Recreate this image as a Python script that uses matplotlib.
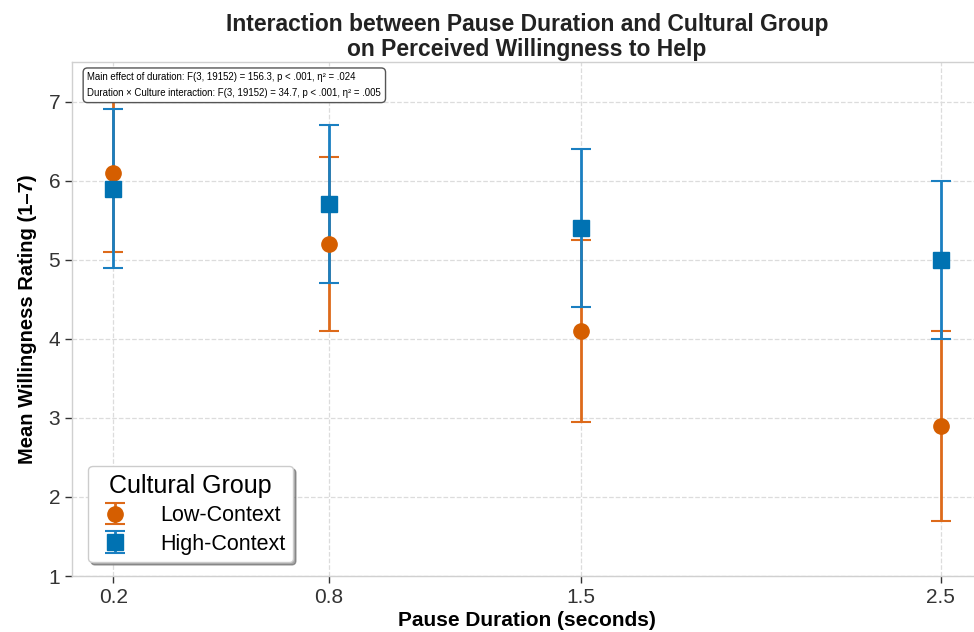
import matplotlib
matplotlib.use("Agg")
import matplotlib.pyplot as plt

durations = [0.2, 0.8, 1.5, 2.5]
duration_labels = ["0.2", "0.8", "1.5", "2.5"]
low_means = [6.1, 5.2, 4.1, 2.9]
low_err = [1.0, 1.1, 1.15, 1.2]
high_means = [5.9, 5.7, 5.4, 5.0]
high_err = [1.0, 1.0, 1.0, 1.0]
groups = ["Low-Context", "High-Context"]
annot_text = ("Main effect of duration: F(3, 19152) = 156.3, p < .001, \u03b7\u00b2 = .024\n"
              "Duration \u00d7 Culture interaction: F(3, 19152) = 34.7, p < .001, \u03b7\u00b2 = .005")

plt.rcParams['font.family'] = ['Liberation Sans', 'DejaVu Sans']

fig = plt.figure(figsize=(9.74, 6.32), dpi=100)
ax = fig.add_axes([72/974, 56/632, 910/974, 514/632])

orange = '#D55E00'
blue = '#0072B2'

ax.errorbar(durations, low_means, yerr=low_err, fmt='o', color=orange,
            ecolor='#dd6a1a', elinewidth=2, capsize=7, capthick=1.5,
            markersize=11, label=groups[0], zorder=3)
ax.errorbar(durations, high_means, yerr=high_err, fmt='s', color=blue,
            ecolor='#1a7fc1', elinewidth=2, capsize=7, capthick=1.5,
            markersize=11, label=groups[1], zorder=3)

ax.set_ylim(1, 7.5)
ax.set_xlim(0.085, 2.615)
ax.set_xticks(durations)
ax.set_xticklabels(duration_labels)
ax.set_yticks([1, 2, 3, 4, 5, 6, 7])

ax.grid(True, linestyle='--', color='#dcdcdc', linewidth=0.9)
ax.set_axisbelow(True)
for s in ax.spines.values():
    s.set_color('#d0d0d0')
    s.set_linewidth(1.0)
ax.tick_params(axis='both', direction='out', length=5, width=1, color='#333333',
               labelsize=15, labelcolor='#333333')

ax.set_title("Interaction between Pause Duration and Cultural Group\non Perceived Willingness to Help",
             fontsize=16.5, fontweight='bold', color='#222222', pad=4, linespacing=1.12)
ax.set_xlabel("Pause Duration (seconds)", fontsize=15, fontweight='bold', labelpad=3)
ax.set_ylabel("Mean Willingness Rating (1\u20137)", fontsize=14.5, fontweight='bold', labelpad=8)

ax.text(0.017, 0.980, annot_text, transform=ax.transAxes, fontsize=6.9,
        va='top', ha='left', zorder=5, linespacing=1.75,
        bbox=dict(boxstyle='round,pad=0.45', facecolor='white', edgecolor='#555555', linewidth=1))

leg = ax.legend(title="Cultural Group", loc='lower left', bbox_to_anchor=(0.006, 0.006),
                fontsize=15.5, title_fontsize=18, frameon=True, shadow=True, fancybox=True,
                borderpad=0.35, handletextpad=1.2, labelspacing=0.35, handlelength=1.8)
leg.get_frame().set_edgecolor('#cccccc')

fig.savefig("out.png", dpi=100)
